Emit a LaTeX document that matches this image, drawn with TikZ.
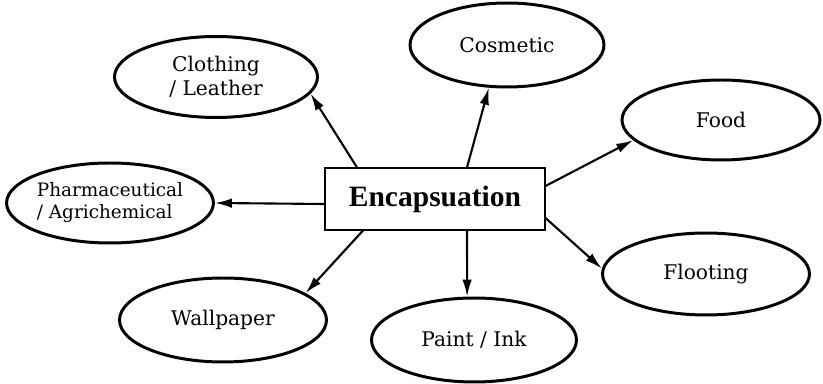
\documentclass[tikz,border=0pt]{standalone}
\usepackage{fontspec}
\setmainfont{DejaVu Serif}
\newfontfamily\boxfont{Liberation Serif}
\usepackage{tikz}
\usetikzlibrary{shapes.geometric,arrows.meta}
\tikzset{auto,>={Latex[length=3.4mm,width=1.9mm]}, line width=1.1pt, font=\fontsize{11.5}{13.5}\selectfont}
\tikzstyle{block} = [draw, fill=white, rectangle, line width=0.6pt, minimum width=4.4cm, minimum height=1.24cm, font={\boxfont\bfseries\fontsize{16.8}{16.8}\selectfont}]
\tikzstyle{field} = [draw, ellipse, line width=1.7pt, inner sep=0pt, minimum width=4.1cm, minimum height=1.64cm, align=center]
\tikzstyle{link} = [->, line width=1.2pt]

\begin{document}
\begin{tikzpicture}[x=0.02cm, y=-0.02cm]
    \useasboundingbox (0,0) rectangle (823,384);
    \node [block] (encaps) at (435,199) {Encapsuation};
    \node [field, minimum width=4.06cm, minimum height=1.62cm] (clothing) at (216,77) {Clothing\\ / Leather};
    \node [field, minimum width=3.88cm, minimum height=1.68cm] (cosmetic) at (507,45) {Cosmetic};
    \node [field, minimum width=3.96cm, minimum height=1.60cm] (food) at (721,120) {Food};
    \node [field, minimum width=4.12cm, minimum height=1.60cm, align=left, font=\fontsize{10.5}{12.5}\selectfont] (pharma) at (110,203) {Pharmaceutical\\/ Agrichemical};
    \node [field, minimum width=4.14cm, minimum height=1.68cm] (wallpaper) at (223,320) {Wallpaper};
    \node [field, minimum width=4.10cm, minimum height=1.68cm] (paint) at (474,340) {Paint / Ink};
    \node [field, minimum width=4.14cm, minimum height=1.64cm] (flooting) at (706,274) {Flooting};

    \draw [link] ([xshift=-1.56cm]encaps.north) -- (clothing.350);
    \draw [link] ([xshift=0.64cm]encaps.north) -- (cosmetic.247);
    \draw [link] ([yshift=0.26cm]encaps.east) -- (food.193);
    \draw [link] ([yshift=-0.1cm]encaps.west) -- (pharma.east);
    \draw [link] ([xshift=-1.44cm]encaps.south) -- (wallpaper.18);
    \draw [link] ([xshift=0.64cm]encaps.south) -- (paint.99);
    \draw [link] ([yshift=-0.38cm]encaps.east) -- (flooting.177);
\end{tikzpicture}
\end{document}
